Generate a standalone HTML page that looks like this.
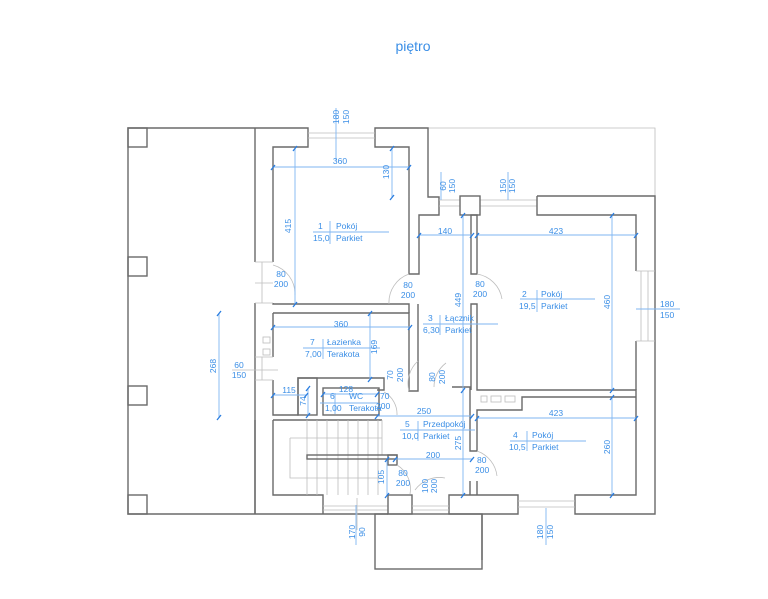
<!DOCTYPE html>
<html><head><meta charset="utf-8"><style>
html,body{margin:0;padding:0;background:#fff;width:768px;height:599px;overflow:hidden}
svg{display:block}
text{font-family:"Liberation Sans",sans-serif;fill:#3a8ee6;font-size:8.5px}
.w{stroke:#6a6a6a;stroke-width:1.4;fill:none}
.t{stroke:#bdbdbd;stroke-width:0.8;fill:none}
.d{stroke:#7fb6f2;stroke-width:0.9;fill:none}
.k{stroke:#2a7de0;stroke-width:1.3}
.s{stroke:#5a9fe8;stroke-width:0.9}
</style></head><body>
<svg width="768" height="599" viewBox="0 0 768 599" xmlns="http://www.w3.org/2000/svg">
<text x="413" y="51" text-anchor="middle" style="font-size:14px">piętro</text>

<!-- thin outer frame -->
<path class="t" d="M428 128H655V196"/>
<!-- left block -->
<path class="w" d="M255 128H128V514H388"/>
<rect class="w" x="128" y="128" width="19" height="19"/>
<rect class="w" x="128" y="257" width="19" height="19"/>
<rect class="w" x="128" y="386" width="19" height="19"/>
<rect class="w" x="128" y="495" width="19" height="19"/>
<path class="w" d="M255 128V262M255 303V514"/>
<!-- room 1 -->
<path class="w" d="M255 128H308V147H273V262M273 303V304H409V313"/>
<path class="w" d="M375 128H428V197H439V215H419V274H409V147H375Z"/>
<path class="t" d="M308 133H375M308 138H375M255 262H273M255 303H273M262 262V303M255 283H273"/>
<!-- window pillars top -->
<path class="t" d="M439 200H460M439 206H460M480 200H537M480 206H537"/>
<rect class="w" x="460" y="196" width="20" height="19"/>
<!-- room 2 -->
<path class="w" d="M537 196H655V514H575V495H636V390H477V304H471V390"/>
<path class="w" d="M537 196V215H636V271M636 341V390M471 274V215H477V274Z"/>
<path class="t" d="M641 271V341M648 271V341M636 271H655M636 341H655"/>
<!-- vent boxes -->
<rect class="t" x="481" y="396" width="6" height="6"/><rect class="t" x="491" y="396" width="10" height="6"/><rect class="t" x="505" y="396" width="10" height="6"/>
<!-- room 4 -->
<path class="w" d="M636 397H522V410H477V451H470V390M477 481V495H449V514H518V495H477M470 481V495"/>
<path class="t" d="M518 501H575M518 507H575"/>
<!-- bathroom / lacznik walls -->
<path class="w" d="M273 313H409V391H418V304M273 313V357M273 380V415H298V378H384V390H377M255 514V420"/>
<path class="t" d="M255 357H273M255 380H273M262 357V380M232 370H278"/>
<rect class="t" x="263" y="337" width="7" height="6"/><rect class="t" x="263" y="349" width="7" height="6"/>
<rect class="w" x="298" y="378" width="19" height="37"/>
<rect class="w" x="323" y="388" width="56" height="27"/>
<path class="w" d="M452 387H470V390"/>
<!-- stairs -->
<path class="w" d="M273 420H382M273 420V495H323V514"/>
<path class="t" d="M307 420V495M317 420V495M327 420V495M338 420V495M348 420V495M358 420V495M368 420V495M378 420V495M382 420V455M290 438H382M290 438V478H382M323 506H388M323 510H388M357 498V530"/>
<rect class="w" x="307" y="455" width="90" height="4"/>
<rect class="w" x="388" y="455" width="9" height="10"/>
<rect class="w" x="388" y="495" width="24" height="19"/>
<path class="t" d="M412 506H449M412 510H449"/>
<rect class="w" x="375" y="514" width="107" height="55"/>
<path class="w" d="M482 514V560"/>
<!-- door arcs -->
<path class="t" d="M273 265A30 30 0 0 1 295 295M409 274A30 30 0 0 0 389 304M477 274A30 30 0 0 1 502 299M418 361A30 30 0 0 0 409 391M446 363A30 30 0 0 0 434 387M384 392A25 25 0 0 1 397 415M477 451A30 30 0 0 1 497 476M397 465A28 28 0 0 1 410 494M415 490A30 30 0 0 1 445 478"/>

<!-- dimension lines -->
<g class="d">
<path d="M273 167H409M295 148V304M392 148V197M336 108V160M441 172V200M508 172V200M419 235H472M477 235H636M463 215V390M612 215V390M636 309H680M273 327H410M370 313V379M273 395H306M308 388V415M323 394H377M377 416H472M463 390V495M395 459H472M387 459V495M477 418H636M612 397V495M219 313V417M356 505V545M546 508V545"/>
<path d="M313 232H389M330 221V244M520 299H595M537 290V312M423 324H498M440 315V335M303 348H380M323 339V359M320 403H378M335 393V414M400 430H475M418 421V441M510 441H586M527 431V451"/>
</g>
<g class="k">
<path d="M271 170l4-5M407 170l4-5M293 151l4-5M293 307l4-5M390 151l4-5M390 200l4-5M417 238l4-5M470 238l4-5M475 238l4-5M634 238l4-5M461 218l4-5M461 393l4-5M610 218l4-5M610 393l4-5M271 330l4-5M408 330l4-5M368 316l4-5M368 382l4-5M271 398l4-5M304 398l4-5M306 391l4-5M306 418l4-5M321 397l4-5M375 397l4-5M375 419l4-5M470 419l4-5M461 498l4-5M393 462l4-5M470 462l4-5M385 462l4-5M385 498l4-5M475 421l4-5M634 421l4-5M610 400l4-5M610 498l4-5M217 316l4-5M217 420l4-5"/>
</g>

<!-- labels -->
<text x="340" y="164" text-anchor="middle">360</text>
<text transform="translate(291 226) rotate(-90)" text-anchor="middle">415</text>
<text transform="translate(389 172) rotate(-90)" text-anchor="middle">130</text>
<text transform="translate(339 117) rotate(-90)" text-anchor="middle">180</text>
<text transform="translate(349 117) rotate(-90)" text-anchor="middle">150</text>
<text x="318" y="229">1</text><text x="336" y="229">Pokój</text>
<text x="313" y="241">15,0</text><text x="336" y="241">Parkiet</text>
<text x="281" y="277" text-anchor="middle">80</text><text x="281" y="287" text-anchor="middle">200</text>
<text x="408" y="288" text-anchor="middle">80</text><text x="408" y="298" text-anchor="middle">200</text>
<text transform="translate(446 186) rotate(-90)" text-anchor="middle">60</text>
<text transform="translate(455 186) rotate(-90)" text-anchor="middle">150</text>
<text transform="translate(506 186) rotate(-90)" text-anchor="middle">150</text>
<text transform="translate(515 186) rotate(-90)" text-anchor="middle">150</text>
<text x="445" y="234" text-anchor="middle">140</text>
<text x="556" y="234" text-anchor="middle">423</text>
<text transform="translate(461 300) rotate(-90)" text-anchor="middle">449</text>
<text x="480" y="287" text-anchor="middle">80</text><text x="480" y="297" text-anchor="middle">200</text>
<text x="522" y="297">2</text><text x="541" y="297">Pokój</text>
<text x="519" y="309">19,5</text><text x="541" y="309">Parkiet</text>
<text transform="translate(610 302) rotate(-90)" text-anchor="middle">460</text>
<text x="660" y="307">180</text><text x="660" y="318">150</text>
<text x="428" y="321">3</text><text x="445" y="321">Łącznik</text>
<text x="423" y="333">6,30</text><text x="445" y="333">Parkiet</text>
<text x="341" y="327" text-anchor="middle">360</text>
<text transform="translate(377 347) rotate(-90)" text-anchor="middle">169</text>
<text x="310" y="345">7</text><text x="327" y="345">Łazienka</text>
<text x="305" y="357">7,00</text><text x="327" y="357">Terakota</text>
<text transform="translate(393 375) rotate(-90)" text-anchor="middle">70</text>
<text transform="translate(403 375) rotate(-90)" text-anchor="middle">200</text>
<text transform="translate(435 377) rotate(-90)" text-anchor="middle">80</text>
<text transform="translate(445 377) rotate(-90)" text-anchor="middle">200</text>
<text x="239" y="368" text-anchor="middle">60</text><text x="239" y="378" text-anchor="middle">150</text>
<text transform="translate(216 366) rotate(-90)" text-anchor="middle">268</text>
<text x="289" y="393" text-anchor="middle">115</text>
<text transform="translate(306 401) rotate(-90)" text-anchor="middle">74</text>
<text x="346" y="392" text-anchor="middle">128</text>
<text x="330" y="399">6</text><text x="349" y="399">WC</text>
<text x="325" y="411">1,00</text><text x="349" y="411">Terakota</text>
<text x="380" y="399">70</text><text x="376" y="409">200</text>
<text x="424" y="414" text-anchor="middle">250</text>
<text x="405" y="427">5</text><text x="423" y="427">Przedpokój</text>
<text x="402" y="439">10,0</text><text x="423" y="439">Parkiet</text>
<text transform="translate(461 443) rotate(-90)" text-anchor="middle">275</text>
<text x="433" y="458" text-anchor="middle">200</text>
<text x="477" y="463">80</text><text x="475" y="473">200</text>
<text transform="translate(384 477) rotate(-90)" text-anchor="middle">105</text>
<text x="403" y="476" text-anchor="middle">80</text><text x="403" y="486" text-anchor="middle">200</text>
<text transform="translate(428 486) rotate(-90)" text-anchor="middle">100</text>
<text transform="translate(437 486) rotate(-90)" text-anchor="middle">200</text>
<text transform="translate(355 532) rotate(-90)" text-anchor="middle">170</text>
<text transform="translate(365 532) rotate(-90)" text-anchor="middle">90</text>
<text x="513" y="438">4</text><text x="532" y="438">Pokój</text>
<text x="509" y="450">10,5</text><text x="532" y="450">Parkiet</text>
<text x="556" y="416" text-anchor="middle">423</text>
<text transform="translate(610 447) rotate(-90)" text-anchor="middle">260</text>
<text transform="translate(543 532) rotate(-90)" text-anchor="middle">180</text>
<text transform="translate(553 532) rotate(-90)" text-anchor="middle">150</text>
</svg>
</body></html>
